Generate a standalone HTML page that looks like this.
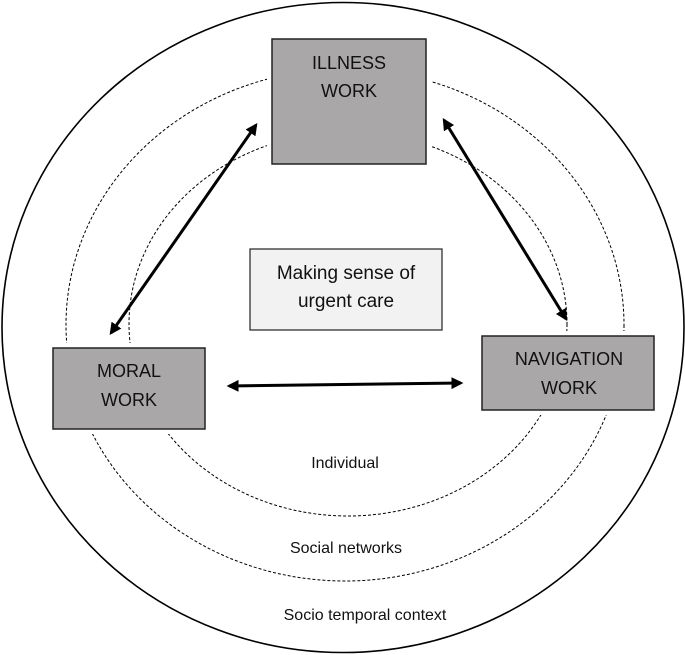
<!DOCTYPE html>
<html><head><style>
html,body{margin:0;padding:0;background:#fff;}
svg{display:block;font-family:"Liberation Sans",sans-serif;}
</style></head><body>
<svg width="685" height="655" viewBox="0 0 685 655" xmlns="http://www.w3.org/2000/svg">
<defs>
<marker id="a" viewBox="0 0 10 10" refX="8" refY="5" markerWidth="4" markerHeight="4" orient="auto-start-reverse">
<path d="M0,0 L10,5 L0,10 z" fill="#000"/>
</marker>
</defs>
<ellipse cx="343" cy="327.5" rx="341" ry="325" fill="none" stroke="#000" stroke-width="1.6"/>
<ellipse cx="345" cy="325" rx="279" ry="256" fill="none" stroke="#000" stroke-width="1" stroke-dasharray="3,2"/>
<ellipse cx="348" cy="324" rx="219" ry="192" fill="none" stroke="#000" stroke-width="1" stroke-dasharray="3,2"/>
<g stroke="#fff" stroke-width="10" fill="#fff">
<rect x="272" y="39" width="154" height="125"/>
<rect x="53" y="348" width="152" height="81"/>
<rect x="482" y="336" width="172" height="74"/>
</g>
<g fill="#a9a7a7" stroke="#222" stroke-width="1.5">
<rect x="272" y="39" width="154" height="125"/>
<rect x="53" y="348" width="152" height="81"/>
<rect x="482" y="336" width="172" height="74"/>
</g>
<rect x="250" y="249" width="192" height="81" fill="#f2f2f2" stroke="#222" stroke-width="1.2"/>
<g stroke="#000" stroke-width="3" marker-start="url(#a)" marker-end="url(#a)">
<line x1="111" y1="333" x2="256" y2="125"/>
<line x1="444" y1="120" x2="566" y2="319"/>
<line x1="229" y1="386" x2="461" y2="383"/>
</g>
<g font-size="18" text-anchor="middle" fill="#111">
<text x="349" y="69">ILLNESS</text>
<text x="349" y="97">WORK</text>
<text x="129" y="377">MORAL</text>
<text x="129" y="406">WORK</text>
<text x="569" y="365">NAVIGATION</text>
<text x="569" y="394">WORK</text>
<text x="346" y="279" font-size="19">Making sense of</text>
<text x="346" y="307" font-size="19">urgent care</text>
<text x="345" y="468" font-size="16">Individual</text>
<text x="346" y="553" font-size="16">Social networks</text>
<text x="365" y="620" font-size="16">Socio temporal context</text>
</g>
</svg>
</body></html>
